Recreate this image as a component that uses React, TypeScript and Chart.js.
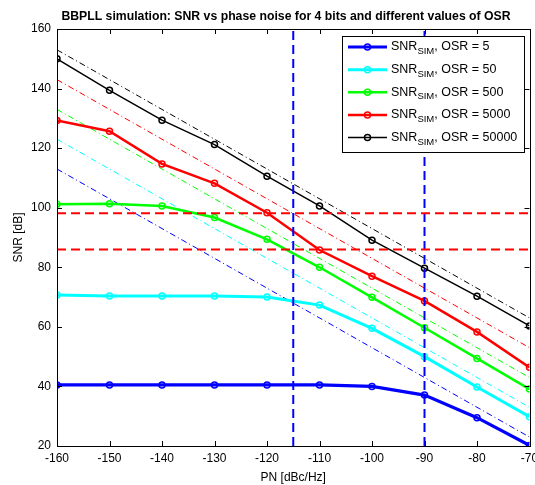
import React, { useEffect, useRef } from "react";
import { Chart, registerables } from "chart.js";

Chart.register(...registerables);

// ---- data ----
const pn = [-160, -150, -140, -130, -120, -110, -100, -90, -80, -70];
const snrOsr5 = [40.5, 40.5, 40.5, 40.5, 40.5, 40.5, 40.0, 37.1, 29.5, 20.2];
const snrOsr50 = [70.7, 70.4, 70.4, 70.4, 70.0, 67.3, 59.5, 50.0, 39.8, 29.8];
const snrOsr500 = [101.2, 101.3, 100.6, 96.7, 89.4, 80.0, 69.9, 59.7, 49.4, 39.1];
const snrOsr5000 = [129.3, 125.7, 114.7, 108.2, 98.3, 85.8, 77.0, 68.7, 58.3, 46.4];
const snrOsr50000 = [150.0, 139.4, 129.4, 121.2, 110.6, 100.6, 89.1, 79.7, 70.3, 60.3];

const theoryPn = [-160, -70];
const theoryOsr5 = [113, 23];
const theoryOsr50 = [123, 33];
const theoryOsr500 = [133, 43];
const theoryOsr5000 = [143, 53];
const theoryOsr50000 = [153, 63];

const osrLabels = ["5", "50", "500", "5000", "50000"];
const seriesColors = ["#0000ff", "#00ffff", "#00ff00", "#ff0000", "#000000"];
const seriesWidths = [3.2, 3, 2.5, 2.5, 1.5];

const snrLimits = [98.1, 86.0];
const pnLimits = [-115, -90];

const xRange = [-160, -70];
const yRange = [20, 160];

const titleText = "BBPLL simulation: SNR vs phase noise for 4 bits and different values of OSR";
const FONT = "'Liberation Sans', Arial, Helvetica, sans-serif";

const simSeries = [snrOsr5, snrOsr50, snrOsr500, snrOsr5000, snrOsr50000];
const theorySeries = [theoryOsr5, theoryOsr50, theoryOsr500, theoryOsr5000, theoryOsr50000];

const decorPlugin = {
  id: "decor",
  afterDraw(chart: any) {
    const ctx = chart.ctx;
    const { left, right, top, bottom } = chart.chartArea;
    const xs = chart.scales.x;
    const ys = chart.scales.y;
    ctx.save();
    // frame
    ctx.strokeStyle = "#000";
    ctx.lineWidth = 1;
    ctx.strokeRect(Math.round(left) + 0.5, Math.round(top) + 0.5, Math.round(right - left), Math.round(bottom - top));
    // inward ticks
    const tl = 5;
    ctx.beginPath();
    xs.ticks.forEach((t: any) => {
      const px = Math.round(xs.getPixelForValue(t.value)) + 0.5;
      ctx.moveTo(px, bottom);
      ctx.lineTo(px, bottom - tl);
      ctx.moveTo(px, top);
      ctx.lineTo(px, top + tl);
    });
    ys.ticks.forEach((t: any) => {
      const py = Math.round(ys.getPixelForValue(t.value)) + 0.5;
      ctx.moveTo(left, py);
      ctx.lineTo(left + tl, py);
      ctx.moveTo(right, py);
      ctx.lineTo(right - tl, py);
    });
    ctx.stroke();

    // title
    ctx.fillStyle = "#000";
    ctx.font = `bold 12.25px ${FONT}`;
    ctx.textAlign = "center";
    ctx.textBaseline = "middle";
    ctx.fillText(titleText, 286, 16.5);

    // legend
    const bx = 342, by = 36, bw = 182, bh = 116;
    ctx.fillStyle = "#fff";
    ctx.fillRect(bx, by, bw, bh);
    ctx.strokeStyle = "#000";
    ctx.lineWidth = 1;
    ctx.strokeRect(bx + 0.5, by + 0.5, bw, bh);
    const step = 22.65;
    for (let i = 0; i < osrLabels.length; i++) {
      const cy = by + 11 + i * step;
      const col = seriesColors[i];
      ctx.strokeStyle = col;
      ctx.lineWidth = seriesWidths[i];
      ctx.beginPath();
      ctx.moveTo(348, cy);
      ctx.lineTo(387, cy);
      ctx.stroke();
      ctx.lineWidth = 1.5;
      ctx.beginPath();
      ctx.arc(367.5, cy, 3, 0, Math.PI * 2);
      ctx.stroke();
      ctx.fillStyle = "#000";
      ctx.textAlign = "left";
      ctx.textBaseline = "middle";
      ctx.font = `12.5px ${FONT}`;
      let tx = 391;
      ctx.fillText("SNR", tx, cy);
      tx += ctx.measureText("SNR").width;
      ctx.font = `9.5px ${FONT}`;
      ctx.fillText("SIM", tx, cy + 4.5);
      tx += ctx.measureText("SIM").width;
      ctx.font = `12.5px ${FONT}`;
      ctx.fillText(", OSR = " + osrLabels[i], tx, cy);
    }
    ctx.restore();
  },
};

export default function App() {
  const ref = useRef<HTMLCanvasElement | null>(null);
  useEffect(() => {
    if (!ref.current) return;
    Chart.defaults.font.family = FONT;
    const datasets: any[] = [];
    simSeries.forEach((arr, i) => {
      datasets.push({
        label: "SNR_SIM, OSR = " + osrLabels[i],
        data: pn.map((x, k) => ({ x, y: arr[k] })),
        borderColor: seriesColors[i],
        borderWidth: seriesWidths[i],
        pointRadius: 3,
        pointBorderWidth: 1.5,
        pointBorderColor: seriesColors[i],
        pointBackgroundColor: "rgba(0,0,0,0)",
        tension: 0,
        order: 1,
      });
    });
    theorySeries.forEach((arr, i) => {
      datasets.push({
        label: "theory " + osrLabels[i],
        data: theoryPn.map((x, k) => ({ x, y: arr[k] })),
        borderColor: seriesColors[i],
        borderWidth: 1,
        borderDash: [6, 3, 1, 3],
        pointRadius: 0,
        order: 2,
      });
    });
    snrLimits.forEach((v) => {
      datasets.push({
        label: "limit " + v,
        data: xRange.map((x) => ({ x, y: v })),
        borderColor: "#ff0000",
        borderWidth: 2,
        borderDash: [9, 5],
        pointRadius: 0,
        order: 0,
      });
    });
    pnLimits.forEach((v) => {
      datasets.push({
        label: "pn " + v,
        data: yRange.map((y) => ({ x: v, y })),
        borderColor: "#0000ff",
        borderWidth: 2,
        borderDash: [9, 5],
        pointRadius: 0,
        order: 0,
      });
    });

    const chart = new Chart(ref.current, {
      type: "line",
      data: { datasets },
      options: {
        responsive: false,
        animation: false,
        layout: { padding: { top: 29, right: 5, left: 0, bottom: 0 } },
        plugins: {
          legend: { display: false },
          title: { display: false },
          tooltip: { enabled: false },
        },
        scales: {
          x: {
            type: "linear",
            min: xRange[0],
            max: xRange[1],
            ticks: { stepSize: 10, color: "#000", font: { size: 12 }, padding: 5, maxRotation: 0, autoSkip: false },
            grid: { display: false, drawTicks: false },
            border: { display: false },
            title: { display: true, text: "PN [dBc/Hz]", color: "#000", font: { size: 12 }, padding: { top: 2.8, bottom: 0 } },
            afterFit: (s: any) => {
              s.height = 39;
              s.paddingLeft = 0;
              s.paddingRight = 0;
            },
          },
          y: {
            type: "linear",
            min: yRange[0],
            max: yRange[1],
            ticks: { stepSize: 20, color: "#000", font: { size: 12 }, padding: 6 },
            grid: { display: false, drawTicks: false },
            border: { display: false },
            title: { display: true, text: "SNR [dB]", color: "#000", font: { size: 12 }, padding: { top: 11, bottom: 0 } },
            afterFit: (s: any) => {
              s.width = 57;
              s.paddingTop = 0;
              s.paddingBottom = 0;
            },
          },
        },
      } as any,
      plugins: [decorPlugin],
    });
    return () => chart.destroy();
  }, []);

  return (
    <div style={{ position: "absolute", left: 0, top: 0, width: 535, height: 485, background: "#fff" }}>
      <canvas ref={ref} width={535} height={485} />
    </div>
  );
}
